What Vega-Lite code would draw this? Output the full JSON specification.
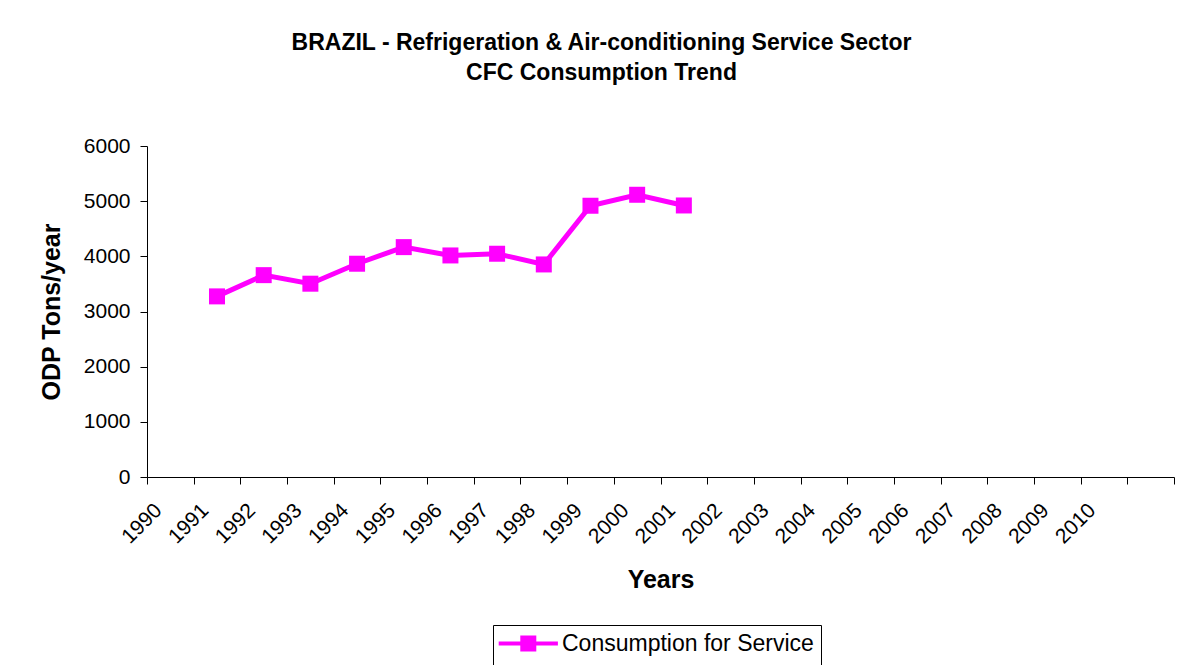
{
  "$schema": "https://vega.github.io/schema/vega-lite/v6.json",
  "autosize": {"type": "none"},
  "width": 1027,
  "height": 331,
  "padding": {"left": 147, "top": 146, "right": 11, "bottom": 188},
  "background": "white",
  "config": {
    "font": "Liberation Sans",
    "view": {"stroke": null},
    "axis": {"grid": false, "domainColor": "black", "tickColor": "black", "labelColor": "black", "titleColor": "black", "labelFont": "Liberation Sans", "titleFont": "Liberation Sans"}
  },
  "title": {
    "text": ["BRAZIL - Refrigeration & Air-conditioning Service Sector", "CFC Consumption Trend"],
    "fontSize": 23,
    "fontWeight": "bold",
    "font": "Liberation Sans",
    "color": "black",
    "anchor": "middle",
    "dx": -59,
    "offset": 50,
    "lineHeight": 30
  },
  "data": {
    "values": [
      {"year": "1991", "value": 3274, "series": "Consumption for Service"},
      {"year": "1992", "value": 3659, "series": "Consumption for Service"},
      {"year": "1993", "value": 3504, "series": "Consumption for Service"},
      {"year": "1994", "value": 3866, "series": "Consumption for Service"},
      {"year": "1995", "value": 4167, "series": "Consumption for Service"},
      {"year": "1996", "value": 4016, "series": "Consumption for Service"},
      {"year": "1997", "value": 4047, "series": "Consumption for Service"},
      {"year": "1998", "value": 3853, "series": "Consumption for Service"},
      {"year": "1999", "value": 4917, "series": "Consumption for Service"},
      {"year": "2000", "value": 5116, "series": "Consumption for Service"},
      {"year": "2001", "value": 4922, "series": "Consumption for Service"}
    ]
  },
  "encoding": {
    "x": {
      "field": "year",
      "type": "ordinal",
      "sort": null,
      "scale": {
        "type": "band",
        "domain": ["1990","1991","1992","1993","1994","1995","1996","1997","1998","1999","2000","2001","2002","2003","2004","2005","2006","2007","2008","2009","2010","2011"],
        "paddingInner": 0,
        "paddingOuter": 0
      },
      "axis": {
        "title": "Years",
        "titleFontSize": 25,
        "titleFontWeight": "bold",
        "titlePadding": 20,
        "labelFontSize": 21,
        "labelAngle": -45,
        "labelAlign": "right",
        "labelBaseline": "middle",
        "labelOffset": -12,
        "labelPadding": 23,
        "tickBand": "extent",
        "tickSize": 7,
        "labelExpr": "datum.value == '2011' ? '' : datum.label"
      }
    },
    "y": {
      "field": "value",
      "type": "quantitative",
      "scale": {"domain": [0, 6000], "nice": false},
      "axis": {
        "title": "ODP Tons/year",
        "titleFontSize": 25,
        "titleFontWeight": "bold",
        "titlePadding": 19,
        "labelFontSize": 21,
        "labelPadding": 10,
        "tickSize": 7,
        "format": "d",
        "values": [0, 1000, 2000, 3000, 4000, 5000, 6000]
      }
    },
    "color": {
      "field": "series",
      "type": "nominal",
      "scale": {"range": ["#FF00FF"]},
      "legend": {
        "title": null,
        "orient": "none",
        "legendX": 346,
        "legendY": 479,
        "strokeColor": "black",
        "padding": 7,
        "labelFontSize": 23,
        "labelFont": "Liberation Sans",
        "labelColor": "black",
        "labelLimit": 400,
        "labelOffset": 39,
        "symbolType": "M-1.6,0L5.8,0M1.35,-0.75L2.85,-0.75L2.85,0.75L1.35,0.75Z",
        "symbolSize": 256,
        "symbolStrokeWidth": 4,
        "symbolFillColor": "#FF00FF",
        "symbolStrokeColor": "#FF00FF"
      }
    }
  },
  "layer": [
    {"mark": {"type": "line", "strokeWidth": 5}},
    {"mark": {"type": "point", "shape": "square", "size": 256, "filled": true, "opacity": 1}}
  ]
}
